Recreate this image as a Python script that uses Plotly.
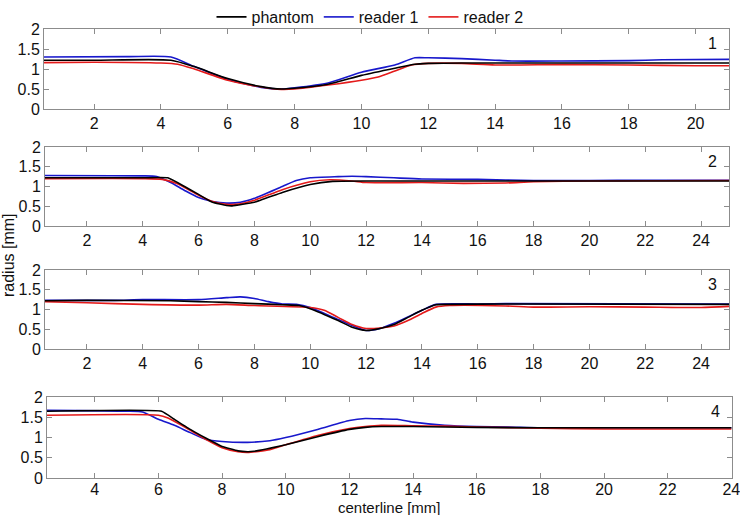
import plotly.graph_objects as go

# Panel 1
p1_x_ph = [0.5, 2, 4.3, 5, 6, 7, 7.6, 8, 9, 10, 11, 11.6, 12, 13, 16, 21]
p1_y_ph = [1.22, 1.22, 1.22, 1.06, 0.76, 0.56, 0.5, 0.52, 0.62, 0.84, 1.02, 1.12, 1.14, 1.15, 1.15, 1.15]
p1_x_r1 = [0.5, 3, 4.3, 5, 6, 7, 7.6, 8, 9, 10, 11, 11.6, 12, 13, 14, 14.5, 16, 18, 19, 21]
p1_y_r1 = [1.3, 1.31, 1.3, 1.06, 0.74, 0.54, 0.5, 0.53, 0.65, 0.92, 1.1, 1.28, 1.28, 1.26, 1.22, 1.2, 1.2, 1.21, 1.23, 1.24]
p1_x_r2 = [0.5, 2, 4, 4.5, 5, 6, 7, 7.6, 8, 9, 10, 10.5, 11, 11.5, 12, 13, 14, 16, 18, 20, 21]
p1_y_r2 = [1.16, 1.17, 1.15, 1.12, 1.0, 0.72, 0.55, 0.49, 0.5, 0.6, 0.72, 0.8, 0.95, 1.1, 1.14, 1.14, 1.1, 1.11, 1.1, 1.08, 1.08]

# Panel 2
p2_x_ph = [0.5, 4, 4.9, 5.5, 6, 6.5, 7, 7.2, 8, 9, 10, 10.8, 12, 14, 18, 25]
p2_y_ph = [1.22, 1.22, 1.22, 1.0, 0.8, 0.6, 0.52, 0.51, 0.6, 0.85, 1.05, 1.13, 1.14, 1.14, 1.14, 1.14]
p2_x_r1 = [0.5, 4, 4.5, 5, 5.5, 6, 6.5, 7, 7.5, 8, 9, 9.5, 10, 11, 11.5, 12, 13, 14, 16, 18, 20, 22, 25]
p2_y_r1 = [1.28, 1.27, 1.25, 1.1, 0.9, 0.72, 0.62, 0.58, 0.6, 0.7, 1.0, 1.15, 1.22, 1.25, 1.26, 1.25, 1.22, 1.19, 1.18, 1.15, 1.15, 1.16, 1.16]
p2_x_r2 = [0.5, 4, 4.7, 5.2, 6, 6.5, 7, 7.5, 8, 9, 10, 10.7, 11.5, 12, 14, 15.5, 17, 18, 20, 25]
p2_y_r2 = [1.2, 1.2, 1.18, 1.08, 0.78, 0.62, 0.55, 0.56, 0.65, 0.92, 1.12, 1.17, 1.14, 1.1, 1.1, 1.08, 1.09, 1.12, 1.14, 1.15]

# Panel 3
p3_x_ph = [0.5, 2, 5, 6, 7, 8, 9, 9.6, 10, 11, 11.5, 12, 12.5, 13, 13.5, 14, 14.5, 15, 17, 25]
p3_y_ph = [1.22, 1.23, 1.22, 1.2, 1.18, 1.15, 1.12, 1.1, 1.02, 0.72, 0.55, 0.47, 0.52, 0.62, 0.8, 0.98, 1.12, 1.13, 1.14, 1.13]
p3_x_r1 = [0.5, 3, 4, 6, 7, 7.5, 8, 8.5, 9, 9.5, 10, 11, 12, 12.5, 13, 14, 14.5, 16, 17, 25]
p3_y_r1 = [1.23, 1.23, 1.25, 1.25, 1.3, 1.32, 1.28, 1.2, 1.14, 1.13, 1.05, 0.75, 0.47, 0.52, 0.65, 0.98, 1.13, 1.14, 1.15, 1.14]
p3_x_r2 = [0.5, 2, 4, 6, 7, 8, 10, 10.5, 11, 11.5, 12, 12.5, 13, 13.5, 14, 14.5, 15, 17, 18, 20, 22, 24, 25]
p3_y_r2 = [1.2, 1.17, 1.13, 1.11, 1.13, 1.1, 1.05, 0.98, 0.8, 0.62, 0.52, 0.53, 0.58, 0.72, 0.9, 1.06, 1.1, 1.09, 1.06, 1.07, 1.06, 1.05, 1.08]

# Panel 4
p4_x_ph = [2.5, 6.1, 6.5, 7, 7.5, 8, 8.5, 8.8, 9, 10, 11, 12, 12.5, 13, 14, 16, 18, 24]
p4_y_ph = [1.65, 1.65, 1.45, 1.2, 0.98, 0.78, 0.67, 0.65, 0.66, 0.82, 1.02, 1.2, 1.25, 1.27, 1.27, 1.25, 1.24, 1.24]
p4_x_r1 = [2.5, 5, 5.5, 6, 6.5, 7, 7.5, 8, 8.8, 9.5, 10, 11, 12, 12.5, 13, 13.5, 14, 15, 16, 17, 18, 24]
p4_y_r1 = [1.67, 1.65, 1.63, 1.45, 1.3, 1.12, 0.95, 0.9, 0.88, 0.92, 1.0, 1.2, 1.42, 1.47, 1.46, 1.45, 1.38, 1.3, 1.27, 1.26, 1.24, 1.24]
p4_x_r2 = [2.5, 6, 6.3, 7, 7.5, 8, 8.5, 8.8, 9.5, 10, 11, 12, 12.5, 13, 14, 15, 16, 18, 20, 22, 24]
p4_y_r2 = [1.55, 1.55, 1.48, 1.18, 0.95, 0.75, 0.65, 0.63, 0.7, 0.82, 1.05, 1.22, 1.27, 1.3, 1.29, 1.28, 1.26, 1.23, 1.21, 1.21, 1.21]

series_names = ["phantom", "reader 1", "reader 2"]
colors = ["#000000", "#1818cc", "#e41a1a"]
panel_labels = ["1", "2", "3", "4"]
x_ranges = [[0.5, 21], [0.5, 25], [0.5, 25], [2.5, 24.02]]
x_ticks = [list(range(2, 21, 2)), list(range(2, 25, 2)), list(range(2, 25, 2)), list(range(4, 25, 2))]
y_ticks = [0, 0.5, 1, 1.5, 2]
y_ticktext = ["0", "0.5", "1", "1.5", "2"]

panels = [
    [(p1_x_ph, p1_y_ph), (p1_x_r1, p1_y_r1), (p1_x_r2, p1_y_r2)],
    [(p2_x_ph, p2_y_ph), (p2_x_r1, p2_y_r1), (p2_x_r2, p2_y_r2)],
    [(p3_x_ph, p3_y_ph), (p3_x_r1, p3_y_r1), (p3_x_r2, p3_y_r2)],
    [(p4_x_ph, p4_y_ph), (p4_x_r1, p4_y_r1), (p4_x_r2, p4_y_r2)],
]

W, H = 740, 515
# pixel boxes (left, right, top, bottom)
boxes = [(44, 729, 29, 109), (45, 729, 147, 226), (45, 729, 270, 349), (47, 732, 397, 478)]

FONT = "Liberation Sans, Arial, sans-serif"

fig = go.Figure()
for i, panel in enumerate(panels):
    xa = "x" if i == 0 else f"x{i+1}"
    ya = "y" if i == 0 else f"y{i+1}"
    order = [1, 2, 0]
    for s in order:
        xs, ys = panel[s]
        sm = 0.35 if (s == 0 and i in (1, 3)) else 0.6
        fig.add_trace(go.Scatter(
            x=xs, y=ys, mode="lines", name=series_names[s],
            line=dict(color=colors[s], width=1.6, shape="spline", smoothing=sm),
            xaxis=xa, yaxis=ya, showlegend=(i == 0),
            legendrank=s,
        ))

axis_common = dict(
    showgrid=False, zeroline=False, showline=True, linecolor="#8c8c8c", linewidth=1,
    mirror="ticks", ticks="inside", ticklen=5, tickcolor="#8c8c8c",
    tickfont=dict(family=FONT, size=16, color="#111111"), automargin=False,
    ticklabeloverflow="allow",
)

layout = dict(
    width=W, height=H, margin=dict(l=0, r=0, t=0, b=0, autoexpand=False),
    plot_bgcolor="white", paper_bgcolor="white",
    font=dict(family=FONT, size=16, color="#111111"),
    legend=dict(orientation="h", x=0.5, xanchor="center", y=1.0, yanchor="top",
                font=dict(family=FONT, size=16), bgcolor="rgba(0,0,0,0)",
                itemwidth=30, tracegroupgap=0, traceorder="normal"),
)
annotations = []
for i, (l, r, t, b) in enumerate(boxes):
    xk = "xaxis" if i == 0 else f"xaxis{i+1}"
    yk = "yaxis" if i == 0 else f"yaxis{i+1}"
    ya = "y" if i == 0 else f"y{i+1}"
    xa = "x" if i == 0 else f"x{i+1}"
    layout[xk] = dict(axis_common, domain=[l / W, r / W], range=x_ranges[i],
                      tickvals=x_ticks[i], anchor=ya)
    layout[yk] = dict(axis_common, domain=[1 - b / H, 1 - t / H], range=[0, 2],
                      tickvals=y_ticks, ticktext=y_ticktext, anchor=xa)
    annotations.append(dict(text=panel_labels[i], xref=f"{xa} domain", yref=f"{ya} domain",
                            x=0.985, y=0.95, xanchor="right", yanchor="top",
                            showarrow=False, font=dict(family=FONT, size=16)))

layout["xaxis4"]["ticklabelstandoff"] = -3

annotations.append(dict(text="radius [mm]", xref="paper", yref="paper", x=8 / W, y=1 - 255 / H,
                        textangle=-90, showarrow=False, xanchor="center", yanchor="middle",
                        font=dict(family=FONT, size=16)))
annotations.append(dict(text="centerline [mm]", xref="paper", yref="paper", x=(47 + 732) / 2 / W,
                        y=1 - 507 / H, showarrow=False, xanchor="center", yanchor="middle",
                        font=dict(family=FONT, size=15)))
layout["annotations"] = annotations
fig.update_layout(**layout)
fig.write_html("out.html", config={"displayModeBar": False},
               post_script="document.body.style.margin='0px';document.body.style.overflow='hidden';")
